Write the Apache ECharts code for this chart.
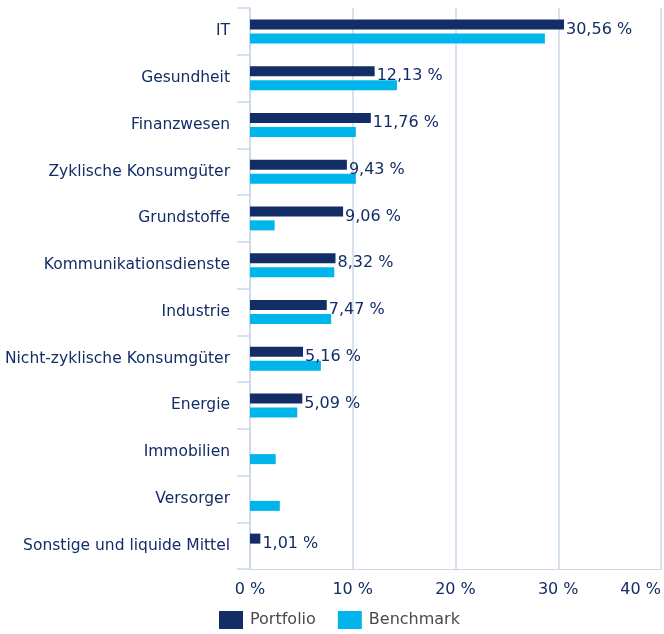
<!DOCTYPE html>
<html>
<head>
<meta charset="utf-8">
<script src="https://cdn.jsdelivr.net/npm/echarts@6/dist/echarts.min.js"></script>
<style>
  html, body { margin: 0; padding: 0; background: #fff; }
  #chart { width: 664px; height: 634px; }
</style>
</head>
<body>
<div id="chart"></div>
<script>
// Sektoren, von oben nach unten
var categories = ['IT', 'Gesundheit', 'Finanzwesen', 'Zyklische Konsumgüter', 'Grundstoffe',
  'Kommunikationsdienste', 'Industrie', 'Nicht-zyklische Konsumgüter', 'Energie',
  'Immobilien', 'Versorger', 'Sonstige und liquide Mittel'];
var portfolio = [30.56, 12.13, 11.76, 9.43, 9.06, 8.32, 7.47, 5.16, 5.09, null, null, 1.01];
var benchmark = [28.7, 14.3, 10.3, 10.3, 2.4, 8.2, 7.9, 6.9, 4.6, 2.5, 2.9, null];
var xTicks = [0, 10, 20, 30, 40];

var NAVY = '#132d66';
var CYAN = '#00b5eb';
var GRID = '#cbd7e8';
var FONT = 'DejaVu Sans';

function fmt(v) {
  return v.toFixed(2).replace('.', ',') + ' %';
}

var chart = echarts.init(document.getElementById('chart'));
chart.setOption({
  animation: false,
  textStyle: { fontFamily: FONT },
  grid: { left: 250, right: 2, top: 8, bottom: 65 },
  legend: {
    left: 219, top: 611, padding: 0,
    itemWidth: 24, itemHeight: 18, itemGap: 22,
    icon: 'rect',
    textStyle: { color: '#4a4a4a', fontSize: 16, fontFamily: FONT, padding: [0, 0, 0, 2] },
    data: ['Portfolio', 'Benchmark']
  },
  xAxis: {
    type: 'value',
    min: xTicks[0], max: xTicks[xTicks.length - 1], interval: 10,
    axisLine: { show: true, lineStyle: { color: GRID } },
    axisTick: { show: false },
    splitLine: { lineStyle: { color: GRID, width: 1.5 } },
    axisLabel: {
      color: NAVY, fontSize: 16, margin: 13,
      alignMaxLabel: 'right',
      formatter: function (v) { return v + ' %'; }
    }
  },
  yAxis: {
    type: 'category',
    inverse: true,
    data: categories,
    axisLine: { show: true, lineStyle: { color: GRID, width: 1.5 } },
    axisTick: { show: true, length: 13, lineStyle: { color: GRID, width: 1.5 } },
    axisLabel: { color: NAVY, fontSize: 15.5, margin: 20, padding: [4, 0, 0, 0] }
  },
  series: [
    {
      name: 'Portfolio', type: 'bar', data: portfolio,
      barWidth: 10, barGap: '40%',
      itemStyle: { color: NAVY },
      label: {
        show: true, position: 'right', distance: 2, offset: [0, 5],
        color: NAVY, fontSize: 16,
        formatter: function (p) { return fmt(p.value); }
      }
    },
    {
      name: 'Benchmark', type: 'bar', data: benchmark,
      barWidth: 10,
      itemStyle: { color: CYAN }
    }
  ]
});
</script>
</body>
</html>
